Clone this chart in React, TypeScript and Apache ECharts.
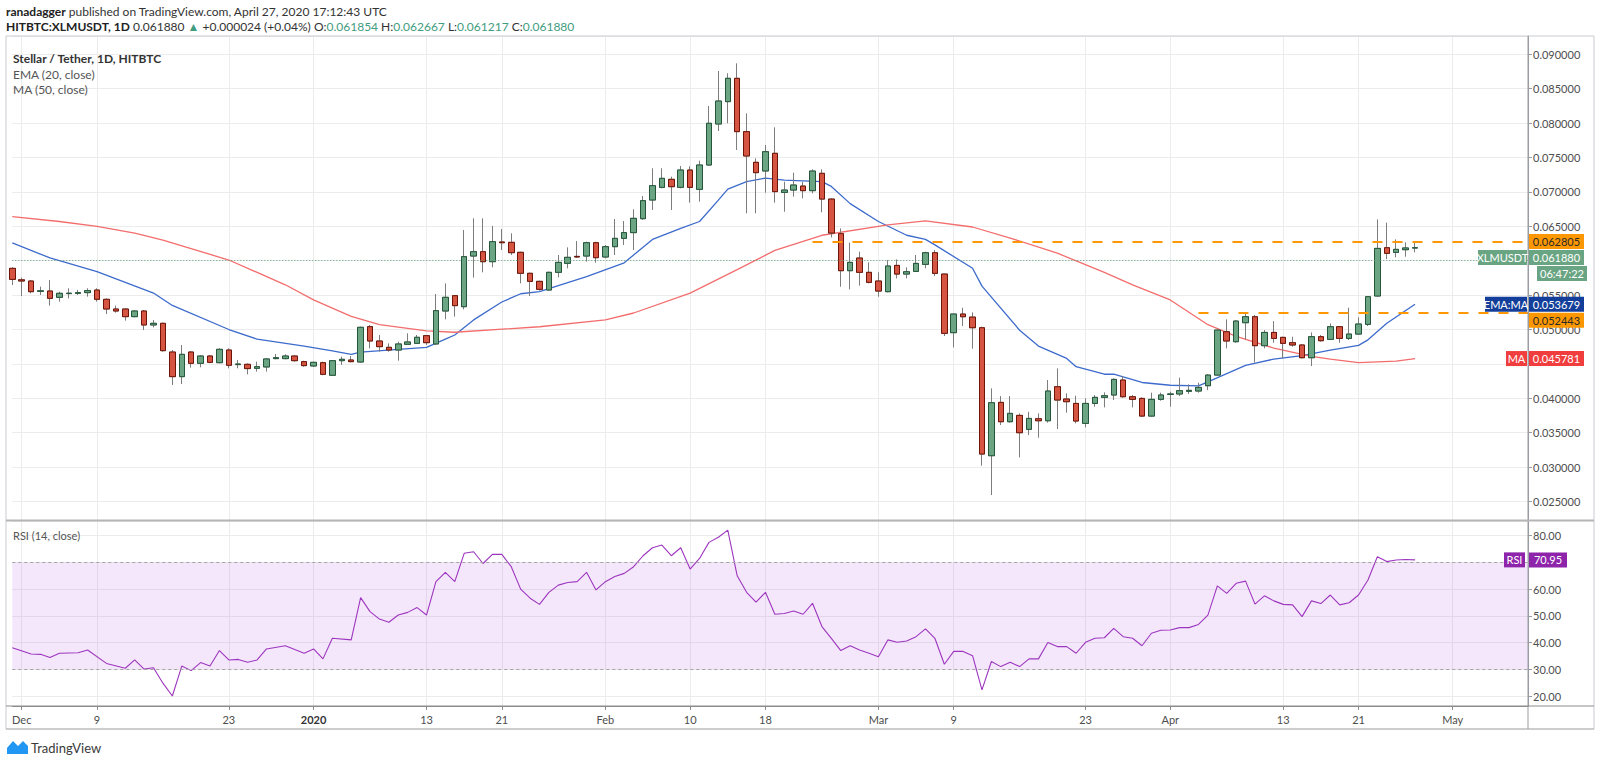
import React, { useEffect, useRef } from "react";
import * as echarts from "echarts";

// ---------- data ----------
const START_DATE_UTC = Date.UTC(2019, 10, 30); // Nov 30, 2019 = index 0
const CATEGORY_COUNT = 162; // through the empty future space up to the price scale

const opens = [
  0.05889, 0.05722, 0.05705, 0.05555, 0.0556, 0.05468, 0.05522, 0.05526, 0.05536, 0.05574,
  0.05439, 0.05298, 0.05298, 0.05187, 0.05269, 0.05066, 0.0509, 0.04673, 0.04315, 0.04673,
  0.04509, 0.04615, 0.04518, 0.04702, 0.0449, 0.04494, 0.04436, 0.04456, 0.04577, 0.04577,
  0.04615, 0.04533, 0.0447, 0.04518, 0.04335, 0.04547, 0.04557, 0.04528, 0.05042, 0.04833,
  0.04741, 0.04702, 0.04785, 0.04799, 0.04911, 0.0479, 0.05269, 0.05492, 0.05332, 0.06068,
  0.06131, 0.05986, 0.06272, 0.06267, 0.06122, 0.05817, 0.057, 0.05574, 0.05831, 0.05962,
  0.06063, 0.06068, 0.06262, 0.06054, 0.06204, 0.06325, 0.06408, 0.06611, 0.06882, 0.07066,
  0.07183, 0.07066, 0.07318, 0.07037, 0.07391, 0.07987, 0.08312, 0.08651, 0.07876, 0.0743,
  0.07304, 0.07561, 0.06993, 0.07027, 0.07085, 0.07018, 0.0727, 0.06896, 0.06393, 0.05855,
  0.06039, 0.05831, 0.05705, 0.0555, 0.05932, 0.05806, 0.05845, 0.05947, 0.06116, 0.05806,
  0.04954, 0.05225, 0.05181, 0.05026, 0.03166, 0.03941, 0.0366, 0.03752, 0.03549, 0.03703,
  0.03674, 0.04169, 0.0399, 0.03926, 0.03636, 0.03926, 0.04014, 0.04048, 0.04266, 0.04023,
  0.03999, 0.03742, 0.03985, 0.04058, 0.04063, 0.04101, 0.04106, 0.04183, 0.04338, 0.04968,
  0.04823, 0.05099, 0.05186, 0.04765, 0.04958, 0.04886, 0.04808, 0.04775, 0.0459, 0.04896,
  0.04857, 0.05041, 0.04871, 0.04934, 0.05075, 0.05487, 0.06189, 0.06121, 0.0616, 0.061854,
];
const highs = [
  0.05905, 0.05754, 0.0572, 0.05623, 0.0572, 0.0555, 0.05599, 0.05575, 0.05599, 0.05599,
  0.05453, 0.05347, 0.05308, 0.05284, 0.05284, 0.05139, 0.051, 0.04702, 0.04775, 0.04688,
  0.0463, 0.0463, 0.04727, 0.04727, 0.04557, 0.04509, 0.04533, 0.04582, 0.04644, 0.0464,
  0.04625, 0.04547, 0.04533, 0.04533, 0.04557, 0.04606, 0.04615, 0.05042, 0.05066, 0.0492,
  0.04799, 0.04823, 0.04945, 0.0492, 0.0492, 0.05516, 0.05671, 0.055, 0.06447, 0.06616,
  0.06616, 0.06505, 0.06461, 0.06398, 0.06131, 0.05826, 0.0571, 0.05841, 0.06083, 0.06194,
  0.06286, 0.06277, 0.06277, 0.06228, 0.06606, 0.06577, 0.06747, 0.06941, 0.07343, 0.07343,
  0.07222, 0.07377, 0.07372, 0.07454, 0.08249, 0.08757, 0.08724, 0.08869, 0.08142, 0.07488,
  0.07682, 0.07939, 0.07148, 0.07279, 0.07148, 0.07328, 0.07328, 0.06906, 0.0647, 0.06262,
  0.06131, 0.05976, 0.05831, 0.0601, 0.06019, 0.05903, 0.06083, 0.06131, 0.06155, 0.0581,
  0.0523, 0.05317, 0.05249, 0.05041, 0.04145, 0.04033, 0.04033, 0.03781, 0.03805, 0.03781,
  0.04266, 0.04435, 0.04072, 0.04038, 0.04, 0.04048, 0.04087, 0.0429, 0.04324, 0.04048,
  0.04014, 0.04082, 0.04082, 0.04096, 0.043, 0.04203, 0.04227, 0.04353, 0.05002, 0.05147,
  0.05138, 0.05235, 0.05211, 0.04992, 0.05123, 0.04895, 0.04895, 0.04789, 0.04958, 0.0492,
  0.05089, 0.0505, 0.05317, 0.05177, 0.05487, 0.06601, 0.06553, 0.0631, 0.06267, 0.062667,
];
const lows = [
  0.05647, 0.05487, 0.05526, 0.05502, 0.05347, 0.05405, 0.05453, 0.05502, 0.05478, 0.05405,
  0.05226, 0.05245, 0.05129, 0.05177, 0.04993, 0.05032, 0.04678, 0.04194, 0.04208, 0.04446,
  0.04451, 0.04509, 0.04509, 0.04436, 0.04436, 0.04349, 0.04388, 0.04388, 0.04567, 0.04567,
  0.04533, 0.0446, 0.0446, 0.04335, 0.04325, 0.04485, 0.04523, 0.04518, 0.04726, 0.04678,
  0.04678, 0.04547, 0.04775, 0.0479, 0.04775, 0.04775, 0.05148, 0.05187, 0.05293, 0.05754,
  0.05831, 0.05904, 0.06156, 0.06083, 0.05671, 0.05487, 0.05565, 0.05565, 0.05758, 0.05889,
  0.0604, 0.05986, 0.05971, 0.06035, 0.06083, 0.06228, 0.06156, 0.06592, 0.06737, 0.07052,
  0.06737, 0.07052, 0.06844, 0.06858, 0.07377, 0.07885, 0.07997, 0.07609, 0.06689, 0.06689,
  0.06989, 0.06844, 0.06712, 0.0693, 0.06906, 0.06979, 0.06703, 0.06339, 0.05622, 0.05583,
  0.05637, 0.05671, 0.05477, 0.0554, 0.05743, 0.05743, 0.05835, 0.05889, 0.05777, 0.04905,
  0.0474, 0.0505, 0.04721, 0.03021, 0.02594, 0.03612, 0.03646, 0.03142, 0.03466, 0.03427,
  0.03646, 0.03554, 0.03791, 0.03636, 0.03578, 0.03878, 0.03868, 0.03975, 0.04009, 0.03868,
  0.0373, 0.0373, 0.03965, 0.03878, 0.04033, 0.04063, 0.04082, 0.0412, 0.04329, 0.04726,
  0.04808, 0.04857, 0.04522, 0.04726, 0.04808, 0.04581, 0.0475, 0.04581, 0.04469, 0.04823,
  0.04847, 0.04808, 0.04847, 0.0492, 0.0505, 0.05477, 0.06024, 0.06049, 0.06058, 0.061217,
];
const closes = [
  0.05729, 0.05705, 0.0555, 0.05562, 0.05453, 0.05526, 0.05528, 0.05536, 0.05565, 0.05439,
  0.05298, 0.05269, 0.05187, 0.05269, 0.05066, 0.0509, 0.04693, 0.04315, 0.04639, 0.04509,
  0.04615, 0.04523, 0.04712, 0.0448, 0.04499, 0.04432, 0.0446, 0.04572, 0.04591, 0.04615,
  0.04547, 0.04475, 0.04523, 0.04349, 0.04547, 0.04567, 0.04533, 0.05032, 0.04833, 0.04751,
  0.04702, 0.0479, 0.04819, 0.04887, 0.04809, 0.05274, 0.05468, 0.05347, 0.06059, 0.06131,
  0.05986, 0.06277, 0.06262, 0.06117, 0.05817, 0.057, 0.05584, 0.05831, 0.05976, 0.06049,
  0.06054, 0.06262, 0.06044, 0.06204, 0.06325, 0.06408, 0.06616, 0.06873, 0.07091, 0.07197,
  0.07076, 0.07318, 0.07066, 0.07391, 0.07997, 0.08321, 0.08651, 0.07876, 0.07522, 0.0728,
  0.07585, 0.07004, 0.07027, 0.071, 0.07018, 0.07303, 0.06896, 0.06402, 0.05855, 0.05976,
  0.05831, 0.05685, 0.05559, 0.05923, 0.05806, 0.0584, 0.05961, 0.06116, 0.05816, 0.04944,
  0.05225, 0.05186, 0.05026, 0.0319, 0.03936, 0.0366, 0.03781, 0.035, 0.03708, 0.03674,
  0.04106, 0.03975, 0.03951, 0.0367, 0.03926, 0.04014, 0.04038, 0.04275, 0.04023, 0.03985,
  0.03742, 0.03985, 0.04048, 0.04063, 0.04111, 0.04116, 0.04159, 0.04338, 0.04992, 0.04833,
  0.05123, 0.05186, 0.04765, 0.04958, 0.04871, 0.04799, 0.04775, 0.0459, 0.04896, 0.04837,
  0.05041, 0.04871, 0.04934, 0.0508, 0.05477, 0.06179, 0.06107, 0.06165, 0.061856, 0.06188,
];

// [day index, value] read points
const ema20Points = [
  [0, 0.0626], [4, 0.0604], [9, 0.0584], [15, 0.0553], [17, 0.0535], [23, 0.05], [26, 0.0486],
  [31, 0.0476], [34, 0.0469], [36, 0.0464], [37, 0.0467], [41, 0.0471], [44, 0.0474], [46, 0.0486],
  [47, 0.0492], [49, 0.0514], [52, 0.054], [54, 0.0552], [56, 0.0555], [61, 0.0577], [65, 0.0597],
  [68, 0.0631], [71, 0.0647], [73, 0.0657], [75, 0.0688], [76, 0.0704], [78, 0.0715], [80, 0.072],
  [82, 0.0717], [84, 0.0716], [86, 0.0715], [87, 0.0708], [89, 0.0683], [92, 0.0657], [95, 0.0637],
  [97, 0.0631], [98, 0.0623], [102, 0.0589], [103, 0.0563], [107, 0.0499], [109, 0.0476],
  [112, 0.0458], [113, 0.0446], [116, 0.0435], [117, 0.0435], [120, 0.0423], [123, 0.0419],
  [126, 0.0418], [127, 0.0424], [131, 0.0448], [134, 0.0457], [137, 0.0462], [140, 0.047],
  [143, 0.0477], [144, 0.0485], [146, 0.0509], [149, 0.053679],
];
const ma50Points = [
  [0, 0.0664], [5, 0.0657], [9, 0.065], [13, 0.064], [16, 0.063], [23, 0.0601], [29, 0.0565],
  [32, 0.0543], [36, 0.0519], [39, 0.0507], [44, 0.0498], [47, 0.0496], [56, 0.0504], [63, 0.0514],
  [66, 0.0524], [72, 0.0553], [77, 0.0587], [81, 0.0615], [86, 0.0637], [93, 0.0652], [97, 0.0658],
  [102, 0.0649], [106, 0.0633], [111, 0.0611], [116, 0.0583], [119, 0.0565], [123, 0.0543],
  [127, 0.0507], [130, 0.049], [134, 0.0473], [138, 0.0461], [140, 0.0457], [143, 0.0452],
  [147, 0.0454], [149, 0.045781],
];
const rsiPoints = [
  [0, 38.1], [2, 35.7], [3, 35.6], [4, 34.4], [5, 36.0], [7, 36.2], [8, 37.2], [10, 32.2],
  [12, 30.4], [13, 33.5], [14, 30.1], [15, 30.6], [16, 24.8], [17, 20.0], [18, 31.2], [19, 29.5],
  [20, 32.5], [21, 31.2], [22, 37.0], [23, 33.5], [24, 33.7], [25, 32.6], [26, 33.5], [27, 37.6],
  [29, 38.8], [31, 36.0], [32, 37.6], [33, 33.9], [34, 41.6], [36, 41.0], [37, 56.8], [38, 51.6],
  [39, 48.8], [40, 47.6], [41, 50.3], [42, 51.3], [43, 53.1], [44, 50.3], [45, 62.8], [46, 66.3],
  [47, 62.8], [48, 73.4], [49, 74.0], [50, 69.6], [51, 73.0], [52, 73.0], [53, 68.4], [54, 60.0],
  [55, 56.6], [56, 54.3], [57, 58.8], [58, 61.5], [59, 62.5], [60, 62.8], [61, 66.3], [62, 59.7],
  [63, 62.8], [64, 64.7], [65, 65.9], [66, 68.4], [67, 72.5], [68, 75.5], [69, 76.5], [70, 72.5],
  [71, 75.5], [72, 67.5], [73, 71.5], [74, 77.5], [75, 79.4], [76, 82.1], [77, 65.0], [78, 58.8],
  [79, 55.1], [80, 58.8], [81, 50.6], [82, 50.9], [83, 51.8], [84, 50.6], [85, 54.7], [86, 46.0],
  [87, 41.6], [88, 37.0], [89, 38.8], [90, 37.2], [91, 36.0], [92, 34.7], [93, 41.0], [94, 40.1],
  [95, 40.6], [96, 42.2], [97, 45.1], [98, 41.6], [99, 31.9], [100, 36.7], [101, 36.7], [102, 35.1],
  [103, 22.3], [104, 32.9], [105, 31.0], [106, 32.6], [107, 31.0], [108, 33.9], [109, 33.9],
  [110, 40.0], [111, 38.5], [112, 38.5], [113, 36.0], [114, 40.1], [115, 41.6], [116, 41.8],
  [117, 45.3], [118, 42.2], [119, 41.6], [120, 38.8], [121, 43.5], [122, 44.6], [123, 44.7],
  [124, 45.6], [125, 45.6], [126, 46.8], [127, 50.3], [128, 61.2], [129, 58.4], [130, 62.2],
  [131, 63.0], [132, 54.4], [133, 57.5], [134, 55.6], [135, 54.3], [136, 54.1], [137, 49.7],
  [138, 55.6], [139, 54.6], [140, 57.8], [141, 54.1], [142, 54.9], [143, 57.8], [144, 63.4],
  [145, 72.1], [146, 70.3], [147, 70.9], [148, 71.1], [149, 70.95],
];

const xTickIndex = [1, 9, 23, 32, 44, 52, 63, 72, 80, 92, 100, 114, 123, 135, 143, 153];
const xTickText = ["Dec", "9", "23", "2020", "13", "21", "Feb", "10", "18", "Mar", "9", "23", "Apr", "13", "21", "May"];

const resistanceLevel = 0.062805;
const resistanceStartIndex = 85;
const supportLevel = 0.052443;
const supportStartIndex = 126;

const PRICE_MIN = 0.02217;
const PRICE_MAX = 0.09266;
const RSI_MIN = 16.26;
const RSI_MAX = 85.5;

// ---------- styling ----------
const FONT = "Lato, 'Open Sans', sans-serif";
const UP_FILL = "#6ba584";
const DOWN_FILL = "#d65442";
const UP_EDGE = "#24573a";
const DOWN_EDGE = "#6e1507";
const WICK = "#7d7d7d";
const GRID_LINE = "#ececec";
const AXIS_TEXT = "#4d4d4d";
const FRAME = "#c9cbd0";
const TEAL = "#3f9c80";

const categories: string[] = [];
for (let k = 0; k < CATEGORY_COUNT; k++) {
  categories.push(new Date(START_DATE_UTC + k * 86400000).toISOString().slice(0, 10));
}

const tickSet = new Set(xTickIndex);
const tickFilter = (idx: number) => tickSet.has(idx);

function xAxisFor(gridIndex: number, showLabels: boolean) {
  return {
    type: "category",
    gridIndex,
    data: categories,
    boundaryGap: false,
    axisLine: { show: showLabels, lineStyle: { color: "#8c8c8c" } },
    axisTick: { show: showLabels, interval: tickFilter, length: 4, lineStyle: { color: "#8c8c8c" } },
    axisLabel: {
      show: showLabels,
      interval: tickFilter,
      color: AXIS_TEXT,
      fontFamily: FONT,
      fontSize: 11,
      margin: 8,
      formatter: (_v: string, idx: number) => {
        const k = xTickIndex.indexOf(idx);
        if (k < 0) return "";
        const t = xTickText[k];
        return t === "2020" ? "{b|2020}" : t;
      },
      rich: { b: { fontWeight: "bold", color: "#333", fontFamily: FONT, fontSize: 11 } },
    },
    splitLine: { show: true, interval: tickFilter, lineStyle: { color: GRID_LINE } },
  };
}

export default function App() {
  const ref = useRef<HTMLDivElement>(null);

  useEffect(() => {
    if (!ref.current) return;
    const chart = echarts.init(ref.current, undefined, { renderer: "svg" });

    const candleData = opens.map((o, i) => [o, closes[i], lows[i], highs[i]]);
    const bodyData = opens.map((o, i) => [o, closes[i], Math.min(o, closes[i]), Math.max(o, closes[i])]);
    const last = closes.length - 1;
    const lastClose = closes[last];

    // price labels hidden behind the price tags (as in TradingView)
    let hiddenPriceLabels: number[] = [];
    const priceLabelFormatter = (v: number) =>
      hiddenPriceLabels.some((h) => Math.abs(h - v) < 1e-7) ? "" : v.toFixed(6);

    chart.setOption({
      animation: false,
      backgroundColor: "#ffffff",
      textStyle: { fontFamily: FONT },
      grid: [
        { left: 12.3, right: 72, top: 36, height: 485 },
        { left: 12.3, right: 72, top: 521, height: 185 },
      ],
      xAxis: [xAxisFor(0, false), xAxisFor(1, true)],
      yAxis: [
        {
          type: "value",
          gridIndex: 0,
          position: "right",
          min: PRICE_MIN,
          max: PRICE_MAX,
          splitNumber: 14,
          axisLine: { show: true, lineStyle: { color: "#9a9ca3" } },
          axisTick: { show: true, length: 4, lineStyle: { color: "#9a9ca3" } },
          axisLabel: {
            color: AXIS_TEXT,
            fontFamily: FONT,
            fontSize: 11,
            margin: 5,
            showMinLabel: false,
            showMaxLabel: false,
            formatter: priceLabelFormatter,
          },
          splitLine: { lineStyle: { color: GRID_LINE } },
        },
        {
          type: "value",
          gridIndex: 1,
          position: "right",
          min: RSI_MIN,
          max: RSI_MAX,
          splitNumber: 7,
          axisLine: { show: true, lineStyle: { color: "#9a9ca3" } },
          axisTick: { show: true, length: 4, lineStyle: { color: "#9a9ca3" } },
          axisLabel: {
            color: AXIS_TEXT,
            fontFamily: FONT,
            fontSize: 11,
            margin: 5,
            showMinLabel: false,
            showMaxLabel: false,
            formatter: (v: number) => v.toFixed(2),
          },
          splitLine: { lineStyle: { color: GRID_LINE } },
        },
      ],
      series: [
        {
          name: "wicks",
          type: "candlestick",
          xAxisIndex: 0,
          yAxisIndex: 0,
          data: candleData,
          barWidth: 6,
          clip: false,
          itemStyle: {
            color: UP_FILL,
            color0: DOWN_FILL,
            borderColor: WICK,
            borderColor0: WICK,
            borderWidth: 1,
          },
          z: 3,
        },
        {
          name: "bodies",
          type: "candlestick",
          xAxisIndex: 0,
          yAxisIndex: 0,
          data: bodyData,
          barWidth: 6,
          clip: false,
          itemStyle: {
            color: UP_FILL,
            color0: DOWN_FILL,
            borderColor: UP_EDGE,
            borderColor0: DOWN_EDGE,
            borderWidth: 1,
          },
          z: 4,
          markLine: {
            silent: true,
            symbol: ["none", "none"],
            label: { show: false },
            data: [
              { yAxis: lastClose, lineStyle: { type: [1, 2], color: "#5f9f7b", width: 1 } },
              [
                { coord: [categories[resistanceStartIndex], resistanceLevel], lineStyle: { type: [10, 10], color: "#ff9800", width: 2 } },
                { coord: [categories[CATEGORY_COUNT - 1], resistanceLevel] },
              ],
              [
                { coord: [categories[supportStartIndex], supportLevel], lineStyle: { type: [10, 10], color: "#ff9800", width: 2 } },
                { coord: [categories[CATEGORY_COUNT - 1], supportLevel] },
              ],
            ],
          },
        },
        {
          name: "EMA (20, close)",
          type: "line",
          xAxisIndex: 0,
          yAxisIndex: 0,
          data: ema20Points,
          showSymbol: false,
          symbol: "none",
          lineStyle: { color: "#3d6bcc", width: 1.3 },
          z: 2,
        },
        {
          name: "MA (50, close)",
          type: "line",
          xAxisIndex: 0,
          yAxisIndex: 0,
          data: ma50Points,
          showSymbol: false,
          symbol: "none",
          lineStyle: { color: "#f36d6d", width: 1.3 },
          z: 2,
        },
        {
          name: "RSI (14, close)",
          type: "line",
          xAxisIndex: 1,
          yAxisIndex: 1,
          data: rsiPoints,
          showSymbol: false,
          symbol: "none",
          lineStyle: { color: "#9d36bf", width: 1.1 },
          z: 3,
          markArea: {
            silent: true,
            itemStyle: { color: "rgba(155, 40, 220, 0.11)" },
            data: [[{ yAxis: 30 }, { yAxis: 70 }]],
          },
          markLine: {
            silent: true,
            symbol: ["none", "none"],
            label: { show: false },
            lineStyle: { type: [3, 3], color: "#a3a3a3", width: 1 },
            data: [{ yAxis: 70 }, { yAxis: 30 }],
          },
        },
      ],
    });

    // ---------- overlays: price tags, header, frame ----------
    const yPrice = (v: number) => chart.convertToPixel({ yAxisIndex: 0 }, v) as number;
    const yRsi = (v: number) => chart.convertToPixel({ yAxisIndex: 1 }, v) as number;

    const TAG_H = 15;
    type Tag = { value: number; text: string; bg: string; fg: string; label?: string; labelW?: number; extra?: string };
    const tags: Tag[] = [
      { value: resistanceLevel, text: resistanceLevel.toFixed(6), bg: "#ff9800", fg: "#2a2a2a" },
      { value: lastClose, text: lastClose.toFixed(6), bg: "#6aa583", fg: "#ffffff", label: "XLMUSDT", labelW: 49, extra: "06:47:22" },
      { value: ema20Points[ema20Points.length - 1][1], text: ema20Points[ema20Points.length - 1][1].toFixed(6), bg: "#133f9a", fg: "#ffffff", label: "EMA:MA", labelW: 42 },
      { value: supportLevel, text: supportLevel.toFixed(6), bg: "#ff9800", fg: "#2a2a2a" },
      { value: ma50Points[ma50Points.length - 1][1], text: ma50Points[ma50Points.length - 1][1].toFixed(6), bg: "#f03d3d", fg: "#ffffff", label: "MA", labelW: 21 },
    ];
    const sorted = tags.map((t) => ({ ...t, y: yPrice(t.value) })).sort((a, b) => a.y - b.y);
    let floor = -Infinity;
    const gfx: any[] = [];
    const tagCenters: number[] = [];
    const tagFont = `11px ${FONT}`;
    for (const t of sorted) {
      let y = Math.max(t.y, floor + TAG_H + 1);
      floor = y;
      tagCenters.push(y);
      gfx.push({ type: "rect", z: 100, shape: { x: 1529, y: y - TAG_H / 2, width: 55, height: TAG_H }, style: { fill: t.bg } });
      gfx.push({ type: "text", z: 101, style: { text: t.text, x: 1556.5, y, align: "center", verticalAlign: "middle", fill: t.fg, font: tagFont } });
      if (t.label) {
        const w = t.labelW || 40;
        gfx.push({ type: "rect", z: 100, shape: { x: 1527 - w, y: y - TAG_H / 2, width: w, height: TAG_H }, style: { fill: t.bg } });
        gfx.push({ type: "text", z: 101, style: { text: t.label, x: 1527 - w / 2, y, align: "center", verticalAlign: "middle", fill: t.fg, font: tagFont } });
      }
      if (t.extra) {
        const y2 = y + TAG_H + 1;
        floor = y2;
        tagCenters.push(y2);
        gfx.push({ type: "rect", z: 100, shape: { x: 1537, y: y2 - TAG_H / 2, width: 50, height: TAG_H }, style: { fill: t.bg } });
        gfx.push({ type: "text", z: 101, style: { text: t.extra, x: 1562, y: y2, align: "center", verticalAlign: "middle", fill: t.fg, font: tagFont } });
      }
    }
    // axis labels that sit fully under a tag are not shown
    const hidden: number[] = [];
    for (let v = 0.025; v <= 0.0901; v += 0.005) {
      const vv = Math.round(v * 1000) / 1000;
      const py = yPrice(vv);
      if (tagCenters.some((c) => Math.abs(c - py) < 6.5)) hidden.push(vv);
    }
    hiddenPriceLabels = hidden;

    // RSI tag
    const rsiLast = rsiPoints[rsiPoints.length - 1][1];
    const ry = yRsi(rsiLast);
    gfx.push({ type: "rect", z: 100, shape: { x: 1504, y: ry - TAG_H / 2, width: 21, height: TAG_H }, style: { fill: "#8e24aa" } });
    gfx.push({ type: "text", z: 101, style: { text: "RSI", x: 1514.5, y: ry, align: "center", verticalAlign: "middle", fill: "#fff", font: tagFont } });
    gfx.push({ type: "rect", z: 100, shape: { x: 1529, y: ry - TAG_H / 2, width: 38, height: TAG_H }, style: { fill: "#8e24aa" } });
    gfx.push({ type: "text", z: 101, style: { text: rsiLast.toFixed(2), x: 1548, y: ry, align: "center", verticalAlign: "middle", fill: "#fff", font: tagFont } });

    // frame
    const frameLine = (x1: number, y1: number, x2: number, y2: number, color = FRAME, w = 1) => ({
      type: "line",
      z: 90,
      shape: { x1, y1, x2, y2 },
      style: { stroke: color, lineWidth: w },
    });
    gfx.push(frameLine(6, 36, 1594, 36));
    gfx.push(frameLine(6, 36, 6, 729));
    gfx.push(frameLine(1594, 36, 1594, 729));
    gfx.push(frameLine(6, 729, 1594, 729, "#9a9a9a"));
    gfx.push(frameLine(1528, 36, 1528, 729, "#9a9ca3"));
    gfx.push(frameLine(6, 706, 1594, 706, "#8c8c8c"));
    gfx.push({ type: "rect", z: 90, shape: { x: 6, y: 519.5, width: 1588, height: 2 }, style: { fill: "#b5b5b5" } });

    // header
    const prev = closes[last - 1];
    const change = lastClose - prev;
    const pct = (change / prev) * 100;
    gfx.push({
      type: "text",
      z: 101,
      style: {
        x: 6,
        y: 11,
        verticalAlign: "middle",
        text: "{b|ranadagger}{n| published on TradingView.com, April 27, 2020 17:12:43 UTC}",
        rich: {
          b: { fontFamily: FONT, fontSize: 12, fontWeight: "bold", fill: "#222" },
          n: { fontFamily: FONT, fontSize: 12, fill: "#333" },
        },
      },
    });
    gfx.push({
      type: "text",
      z: 101,
      style: {
        x: 6,
        y: 26,
        verticalAlign: "middle",
        text:
          `{d|HITBTC:XLMUSDT, 1D}{n| ${lastClose.toFixed(6)} }{g|▲}{n| +${change.toFixed(6)} (+${pct.toFixed(2)}%) O:}` +
          `{g|${opens[last].toFixed(6)}}{n| H:}{g|${highs[last].toFixed(6)}}{n| L:}{g|${lows[last].toFixed(6)}}{n| C:}{g|${lastClose.toFixed(6)}}`,
        rich: {
          d: { fontFamily: FONT, fontSize: 12, fontWeight: "bold", fill: "#222" },
          n: { fontFamily: FONT, fontSize: 12, fill: "#333" },
          g: { fontFamily: FONT, fontSize: 12, fill: TEAL },
        },
      },
    });
    // pane legends
    gfx.push({ type: "text", z: 101, style: { x: 13, y: 58, verticalAlign: "middle", text: "Stellar / Tether, 1D, HITBTC", fill: "#333", font: `bold 12px ${FONT}` } });
    gfx.push({ type: "text", z: 101, style: { x: 13, y: 74, verticalAlign: "middle", text: "EMA (20, close)", fill: "#555", font: `12px ${FONT}` } });
    gfx.push({ type: "text", z: 101, style: { x: 13, y: 89, verticalAlign: "middle", text: "MA (50, close)", fill: "#555", font: `12px ${FONT}` } });
    gfx.push({ type: "text", z: 101, style: { x: 13, y: 535, verticalAlign: "middle", text: "RSI (14, close)", fill: "#555", font: `11px ${FONT}` } });

    // TradingView footer logo
    gfx.push({
      type: "polygon",
      z: 101,
      shape: { points: [[7, 754], [7, 748], [13, 741], [18, 746], [23, 741], [28, 746], [28, 754]] },
      style: { fill: "#2196f3" },
    });
    gfx.push({ type: "text", z: 101, style: { x: 31, y: 747.5, verticalAlign: "middle", text: "TradingView", fill: "#3a3a3a", font: `13px ${FONT}` } });

    chart.setOption({
      graphic: gfx,
      yAxis: [{ axisLabel: { formatter: priceLabelFormatter } }, {}],
    });

    return () => chart.dispose();
  }, []);

  return (
    <div
      ref={ref}
      style={{ position: "fixed", left: 0, top: 0, width: 1600, height: 763, background: "#fff" }}
    />
  );
}
